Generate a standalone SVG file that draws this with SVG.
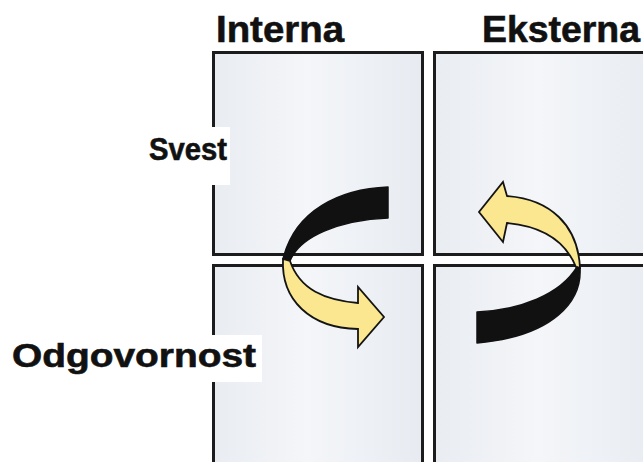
<svg xmlns="http://www.w3.org/2000/svg" width="643" height="462" viewBox="0 0 643 462">
  <defs>
    <linearGradient id="cellFill" x1="0" y1="0" x2="1" y2="0">
      <stop offset="0" stop-color="#e9ecf1"/>
      <stop offset="0.45" stop-color="#f4f6f9"/>
      <stop offset="1" stop-color="#e7ebf1"/>
    </linearGradient>
    <style>
      .cell { fill: url(#cellFill); stroke: #1c1c1c; stroke-width: 3; }
      .lbl { font-family: "Liberation Sans", Arial, sans-serif; font-weight: bold; fill: #111; stroke: #111; stroke-width: 0.6; }
      .bg { fill: #ffffff; }
      .blk { fill: #111111; stroke: #111111; stroke-width: 1.5; stroke-linejoin: round; }
      .yel { fill: #fbe78f; stroke: #141414; stroke-width: 1.8; stroke-linejoin: miter; }
    </style>
  </defs>
  <rect width="643" height="462" fill="#ffffff"/>

  <g id="cell-interna-svest">
    <rect class="cell" x="213.5" y="52.5" width="209" height="202"/>
  </g>
  <g id="cell-eksterna-svest">
    <rect class="cell" x="434.5" y="52.5" width="230" height="202"/>
  </g>
  <g id="cell-interna-odgovornost">
    <rect class="cell" x="213.5" y="265.5" width="209" height="220"/>
  </g>
  <g id="cell-eksterna-odgovornost">
    <rect class="cell" x="434.5" y="265.5" width="230" height="220"/>
  </g>

  <g id="label-interna">
    <text class="lbl" x="216" y="42" font-size="37.5" textLength="128" lengthAdjust="spacingAndGlyphs">Interna</text>
  </g>
  <g id="label-eksterna">
    <text class="lbl" x="482" y="42" font-size="37" textLength="158" lengthAdjust="spacingAndGlyphs">Eksterna</text>
  </g>
  <g id="label-svest">
    <rect class="bg" x="140" y="127" width="90" height="58"/>
    <text class="lbl" x="149" y="160" font-size="31" textLength="78" lengthAdjust="spacingAndGlyphs">Svest</text>
  </g>
  <g id="label-odgovornost">
    <rect class="bg" x="4" y="335" width="258" height="47"/>
    <text class="lbl" x="12" y="367" font-size="33" textLength="244" lengthAdjust="spacingAndGlyphs">Odgovornost</text>
  </g>

  <g id="connectors">
    <g id="arrow-left">
      <path class="blk" d="M 388 187 C 340 189, 295 210, 283 259 L 290 261 C 300 236, 340 220, 388 218 Z"/>
      <path class="yel" d="M 283 259 C 281 300, 310 328, 358 329 L 358 347 L 384 317 L 358 287 L 358 303 C 325 300, 300 290, 290 261 Z"/>
    </g>
    <g id="arrow-right">
      <path class="yel" d="M 580 268 C 578 225, 550 199, 507 196 L 503 182 L 479 212 L 503 242 L 507 223 C 540 226, 565 240, 576 267 Z"/>
      <path class="blk" d="M 477 312 C 520 310, 560 295, 577 267 L 580 268 C 582 300, 555 336, 477 343 Z"/>
    </g>
  </g>
</svg>
